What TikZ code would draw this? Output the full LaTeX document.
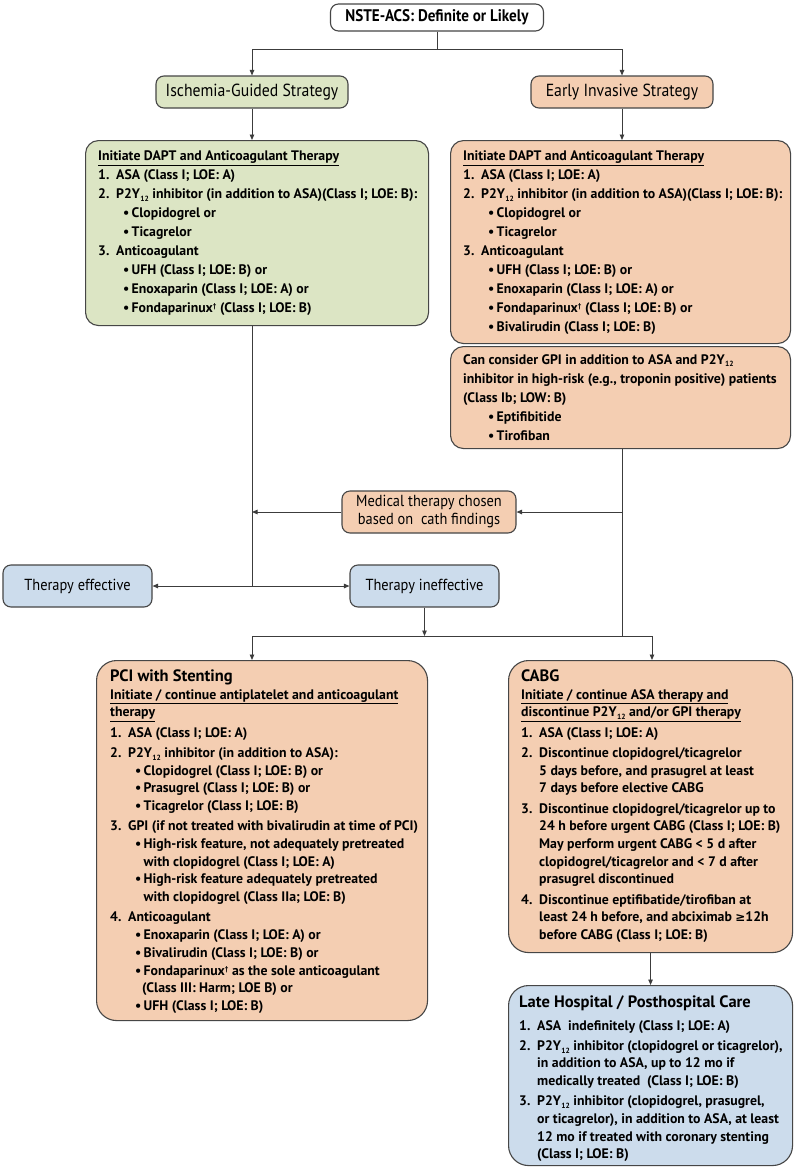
\documentclass[tikz,border=0pt]{standalone}
\usepackage{fontspec}
\setmainfont{PT Sans}
\newfontfamily\condf[FakeStretch=0.9]{PT Sans}
\newfontfamily\condb[FakeStretch=0.9]{PT Sans}
\newfontfamily\dejav{DejaVu Sans}
\usetikzlibrary{arrows.meta}
\definecolor{gfill}{RGB}{220,229,196}
\definecolor{pfill}{RGB}{244,206,178}
\definecolor{bfill}{RGB}{204,220,236}
\definecolor{edgec}{RGB}{70,70,70}
\definecolor{linec}{RGB}{60,60,60}
\newcommand\pyy{P2Y\kern0.3pt\raisebox{-2.8pt}{\fontsize{7.5}{7.5}\selectfont 12}}
\newcommand\dgr{\raisebox{4pt}{\fontsize{7}{7}\selectfont †}}
\newcommand\nm[1]{\makebox[18pt][l]{#1}}
\newcommand\nmc{\hspace*{18pt}}
\newcommand\bl{\hspace*{25pt}\makebox[8.5pt][l]{•}}
\newcommand\blc{\hspace*{33.5pt}}
\tikzset{
  bigbox/.style={draw=edgec, line width=1.1pt, rounded corners=13pt, inner sep=0pt, anchor=north west},
  sbox/.style={draw=edgec, line width=1.1pt, rounded corners=8pt, inner sep=0pt, align=center},
  txt/.style={inner sep=0pt, anchor=north west, align=left, font=\bfseries\fontsize{13.8}{19}\selectfont},
  txtb/.style={inner sep=0pt, anchor=north west, align=left, font=\bfseries\fontsize{13.8}{17.7}\selectfont},
  ttl/.style={font=\condf\fontsize{17.5}{18}\selectfont},
  arr/.style={draw=linec, line width=0.9pt, -{Triangle[length=5.5pt,width=4.5pt]}},
  ln/.style={draw=linec, line width=0.9pt},
}
\begin{document}
\begin{tikzpicture}[x=1pt,y=-1pt]
\path[use as bounding box, fill=white] (0,0) rectangle (800,1167);

% top
\node[sbox, fill=white, minimum width=213pt, minimum height=27pt, font=\condb\bfseries\fontsize{16.8}{18}\selectfont] (top) at (437,17.5) {NSTE-ACS: Definite or Likely};
\node[sbox, fill=gfill, minimum width=192pt, minimum height=32pt, ttl] (isch) at (252,92) {Ischemia-Guided Strategy};
\node[sbox, fill=pfill, minimum width=182pt, minimum height=32pt, ttl] (early) at (622,92) {Early Invasive Strategy};

% DAPT boxes
\node[bigbox, fill=gfill, minimum width=343pt, minimum height=185pt] (ldapt) at (85,140) {};
\node[txt] (ldaptT) at (98,150.5) {\underline{Initiate DAPT and Anticoagulant Therapy}\\
\nm{1.}ASA (Class I; LOE: A)\\
\nm{2.}\pyy{} inhibitor (in addition to ASA)(Class I; LOE: B):\\
\bl Clopidogrel or\\
\bl Ticagrelor\\
\nm{3.}Anticoagulant\\
\bl UFH (Class I; LOE: B) or\\
\bl Enoxaparin (Class I; LOE: A) or\\
\bl Fondaparinux\dgr{} (Class I; LOE: B)};

\node[bigbox, fill=pfill, minimum width=340pt, minimum height=203pt] (rdapt) at (450,140) {};
\node[txt] (rdaptT) at (463,150.5) {\underline{Initiate DAPT and Anticoagulant Therapy}\\
\nm{1.}ASA (Class I; LOE: A)\\
\nm{2.}\pyy{} inhibitor (in addition to ASA)(Class I; LOE: B):\\
\bl Clopidogrel or\\
\bl Ticagrelor\\
\nm{3.}Anticoagulant\\
\bl UFH (Class I; LOE: B) or\\
\bl Enoxaparin (Class I; LOE: A) or\\
\bl Fondaparinux\dgr{} (Class I; LOE: B) or\\
\bl Bivalirudin (Class I; LOE: B)};

\node[bigbox, fill=pfill, minimum width=340pt, minimum height=102pt] (gpi) at (450,346) {};
\node[txt] (gpiT) at (463,354) {Can consider GPI in addition to ASA and \pyy\\
inhibitor in high-risk (e.g., troponin positive) patients\\
(Class Ib; LOW: B)\\
\bl Eptifibitide\\
\bl Tirofiban};

% middle
\node[sbox, fill=pfill, minimum width=174pt, minimum height=42pt, font=\condf\fontsize{16}{18}\selectfont] (med) at (429,512) {Medical therapy chosen\\based on\ \ cath findings};
\node[sbox, fill=bfill, minimum width=149pt, minimum height=42pt, font=\condf\fontsize{16}{18}\selectfont] (eff) at (77.5,586) {Therapy effective};
\node[sbox, fill=bfill, minimum width=149pt, minimum height=42pt, font=\condf\fontsize{16}{18}\selectfont] (ineff) at (424.5,586) {Therapy ineffective};

% PCI
\node[bigbox, rounded corners=20pt, fill=pfill, minimum width=331pt, minimum height=360pt] (pci) at (96,660) {};
\node[txtb] (pciT) at (110,669.5) {{\fontsize{16.5}{17.7}\selectfont PCI with Stenting}\\
\underline{Initiate / continue antiplatelet and anticoagulant}\\
\underline{therapy}\\[2.6pt]
\nm{1.}ASA (Class I; LOE: A)\\[2.6pt]
\nm{2.}\pyy{} inhibitor (in addition to ASA):\\
\bl Clopidogrel (Class I; LOE: B) or\\
\bl Prasugrel (Class I; LOE: B) or\\
\bl Ticagrelor (Class I; LOE: B)\\[2.6pt]
\nm{3.}GPI (if not treated with bivalirudin at time of PCI)\\
\bl High-risk feature, not adequately pretreated\\
\blc with clopidogrel (Class I; LOE: A)\\
\bl High-risk feature adequately pretreated\\
\blc with clopidogrel (Class IIa; LOE: B)\\[2.6pt]
\nm{4.}Anticoagulant\\
\bl Enoxaparin (Class I; LOE: A) or\\
\bl Bivalirudin (Class I; LOE: B) or\\
\bl Fondaparinux\dgr{} as the sole anticoagulant\\
\hspace*{32pt}(Class III: Harm; LOE B) or\\
\bl UFH (Class I; LOE: B)};

% CABG
\node[bigbox, rounded corners=20pt, fill=pfill, minimum width=284pt, minimum height=292pt] (cabg) at (508,660) {};
\node[txtb] (cabgT) at (521,669.5) {{\fontsize{16.5}{17.7}\selectfont CABG}\\
\underline{Initiate / continue ASA therapy and}\\
\underline{discontinue \pyy{} and/or GPI therapy}\\[2.6pt]
\nm{1.}ASA (Class I; LOE: A)\\[2.6pt]
\nm{2.}Discontinue clopidogrel/ticagrelor\\
\nmc 5 days before, and prasugrel at least\\
\nmc 7 days before elective CABG\\[2.6pt]
\nm{3.}Discontinue clopidogrel/ticagrelor up to\\
\nmc 24 h before urgent CABG (Class I; LOE: B)\\
\nmc May perform urgent CABG < 5 d after\\
\nmc clopidogrel/ticagrelor and < 7 d after\\
\nmc prasugrel discontinued\\[2.6pt]
\nm{4.}Discontinue eptifibatide/tirofiban at\\
\nmc least 24 h before, and abciximab {\dejav\bfseries\fontsize{12}{12}\selectfont ≥}12h\\
\nmc before CABG (Class I; LOE: B)};

% Late
\node[bigbox, rounded corners=20pt, fill=bfill, minimum width=284pt, minimum height=180pt] (late) at (508,985) {};
\node[txtb] (lateT) at (519,995.5) {{\fontsize{16.5}{17.7}\selectfont Late Hospital / Posthospital Care}\\[5pt]
\nm{1.}ASA\ \ indefinitely (Class I; LOE: A)\\[2.4pt]
\nm{2.}\pyy{} inhibitor (clopidogrel or ticagrelor),\\
\nmc in addition to ASA, up to 12 mo if\\
\nmc medically treated\ \ (Class I; LOE: B)\\[2.4pt]
\nm{3.}\pyy{} inhibitor (clopidogrel, prasugrel,\\
\nmc or ticagrelor), in addition to ASA, at least\\
\nmc 12 mo if treated with coronary stenting\\
\nmc (Class I; LOE: B)};

% connectors
\draw[ln] (top.south) -- ++(0,18) coordinate (tj);
\draw[arr] (tj) -| (isch.north);
\draw[arr] (tj) -| (early.north);
\draw[arr] (isch.south) -- (isch.south |- ldapt.north);
\draw[arr] (early.south) -- (early.south |- rdapt.north);

\coordinate (jt) at (252,586);
\coordinate (jb) at (622,636);
\coordinate (bl) at (252,636);
\coordinate (br) at (652,636);
\draw[ln] (ldapt.south -| jt) -- (jt);
\draw[arr] (jt) -- (eff.east);
\draw[arr] (jt) -- (ineff.west);
\draw[ln] (gpi.south -| jb) -- (jb);
\draw[arr] (jb |- med.east) -- (med.east);
\draw[arr] (med.west) -- (jt |- med.west);
\draw[arr] (ineff.south) -- (ineff.south |- jb);
\draw[ln] (bl) -- (br);
\draw[arr] (bl) -- (bl |- pci.north);
\draw[arr] (br) -- (br |- cabg.north);
\draw[arr] (cabg.south) -- (cabg.south |- late.north);
\end{tikzpicture}
\end{document}
